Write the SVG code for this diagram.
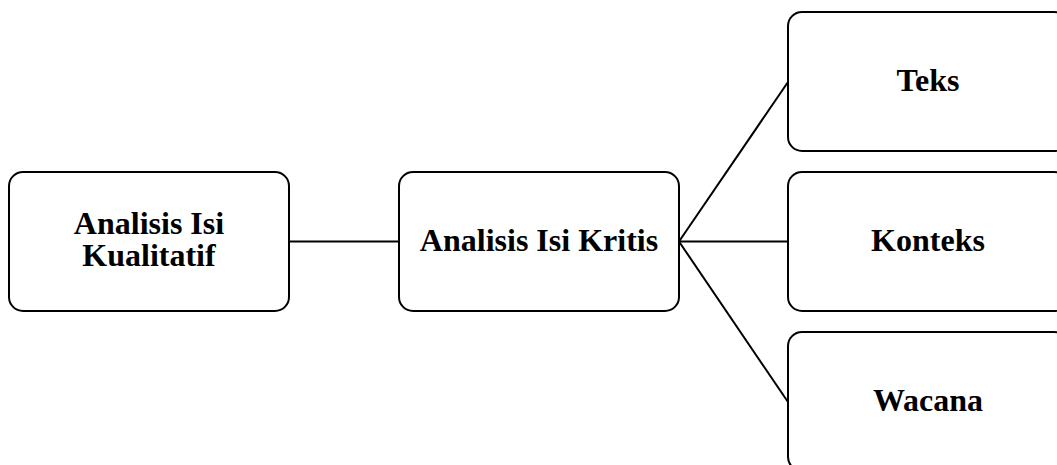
<svg xmlns="http://www.w3.org/2000/svg" width="1057" height="465" viewBox="0 0 1057 465">
<style>
.box{fill:#fff;stroke:#000;stroke-width:2}
.lbl{font-family:"Liberation Serif","Times New Roman",serif;font-weight:bold;font-size:32px;fill:#000;text-anchor:middle}
.con{stroke:#000;stroke-width:2;fill:none}
</style>
<rect width="1057" height="465" fill="#fff"/>
<g id="connectors">
<line class="con" x1="289" y1="241.5" x2="399" y2="241.5"/>
<line class="con" x1="679" y1="241.5" x2="788" y2="241.5"/>
<line class="con" x1="679" y1="241.5" x2="788" y2="82"/>
<line class="con" x1="679" y1="241.5" x2="788" y2="402"/>
</g>
<g id="node-kualitatif">
<rect class="box" x="9" y="172" width="280" height="139" rx="14"/>
<text class="lbl" x="149" y="234">Analisis Isi</text>
<text class="lbl" x="149" y="266">Kualitatif</text>
</g>
<g id="node-kritis">
<rect class="box" x="399" y="172" width="280" height="139" rx="14"/>
<text class="lbl" x="539" y="251">Analisis Isi Kritis</text>
</g>
<g id="node-teks">
<rect class="box" x="788" y="12" width="280" height="139" rx="14"/>
<text class="lbl" x="928" y="91">Teks</text>
</g>
<g id="node-konteks">
<rect class="box" x="788" y="172" width="280" height="139" rx="14"/>
<text class="lbl" x="928" y="251">Konteks</text>
</g>
<g id="node-wacana">
<rect class="box" x="788" y="332" width="280" height="139" rx="14"/>
<text class="lbl" x="928" y="411">Wacana</text>
</g>
</svg>
